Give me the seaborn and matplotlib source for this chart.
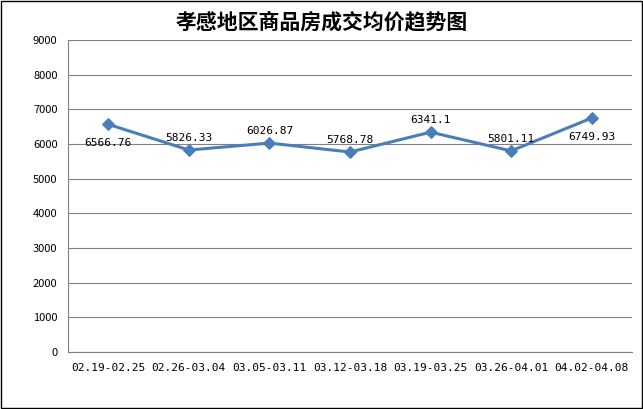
import matplotlib
matplotlib.use("Agg")
import matplotlib.pyplot as plt
import seaborn as sns
import pandas as pd
from matplotlib.patches import Rectangle

# data
weeks = ["02.19-02.25", "02.26-03.04", "03.05-03.11", "03.12-03.18",
         "03.19-03.25", "03.26-04.01", "04.02-04.08"]
prices = [6566.76, 5826.33, 6026.87, 5768.78, 6341.1, 5801.11, 6749.93]
price_labels = ["6566.76", "5826.33", "6026.87", "5768.78", "6341.1", "5801.11", "6749.93"]
label_below = [True, False, False, False, False, False, True]

df = pd.DataFrame({"pos": range(len(weeks)), "price": prices})

sns.set_style("white")
plt.rcParams["font.family"] = ["Noto Sans CJK SC", "DejaVu Sans"]

fig = plt.figure(figsize=(6.43, 4.09), dpi=100)
ax = fig.add_axes([68 / 643, 1 - 352 / 409, 564 / 643, 312 / 409])

sns.lineplot(data=df, x="pos", y="price", ax=ax, color="#4A7EBB", linewidth=2.2,
             marker="D", markersize=6, markeredgecolor="#4A7EBB")

for i, (v, t, below) in enumerate(zip(prices, price_labels, label_below)):
    if below:
        ax.text(i, v - 400, t, ha="center", va="top", fontsize=8,
                family="DejaVu Sans Mono", color="black")
    else:
        ax.text(i, v + 200, t, ha="center", va="bottom", fontsize=8,
                family="DejaVu Sans Mono", color="black")

ax.set_xlim(-0.5, len(weeks) - 0.5)
ax.set_ylim(0, 9000)
ax.set_yticks(range(0, 9001, 1000))
ax.set_xticks(range(len(weeks)))
ax.set_xticklabels(weeks, fontsize=8, family="DejaVu Sans Mono")
ax.set_xticks([i - 0.5 for i in range(len(weeks) + 1)], minor=True)
ax.tick_params(axis="x", which="major", length=0, pad=8, labelcolor="black")
ax.tick_params(axis="x", which="minor", length=4, direction="out")
ax.tick_params(axis="y", labelsize=8, length=4, direction="out", labelcolor="black")
ax.set_xlabel("")
ax.set_ylabel("")
ax.yaxis.grid(True, color="#808080", linewidth=0.8)
for s in ["top", "right"]:
    ax.spines[s].set_visible(False)
for s in ["left", "bottom"]:
    ax.spines[s].set_color("#808080")

fig.text(0.5, 1 - 22 / 409, "孝感地区商品房成交均价趋势图", ha="center", va="center",
         fontsize=15, fontweight="bold", color="black")
fig.patches.append(Rectangle((0.002, 0.002), 0.996, 0.996, transform=fig.transFigure,
                             fill=False, edgecolor="black", linewidth=1))

fig.savefig("out.png", dpi=100)
